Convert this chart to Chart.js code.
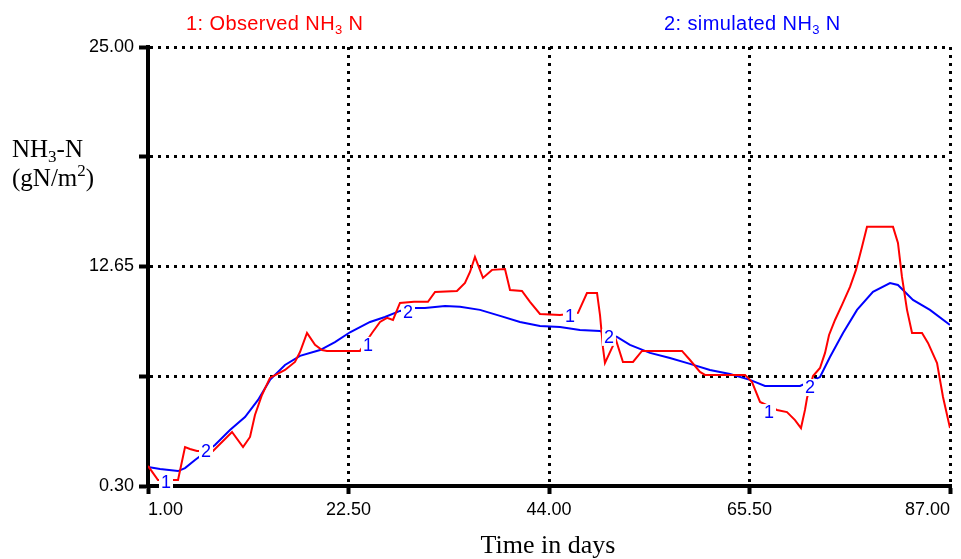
<!DOCTYPE html>
<html>
<head>
<meta charset="utf-8">
<script src="https://cdn.jsdelivr.net/npm/chart.js@4.4.1/dist/chart.umd.min.js"></script>
<style>
  html, body { margin: 0; padding: 0; background: #fff; }
  #wrap { width: 961px; height: 559px; }
</style>
</head>
<body>
<div id="wrap"><canvas id="chart" width="961" height="559"></canvas></div>
<script>
// observed NH3 N (series 1)
const obsDays = [1.0, 2.07, 3.57, 4.22, 4.97, 5.50, 6.25, 7.97, 10.01, 11.19, 11.94, 12.47, 13.22, 14.08, 15.69, 16.76, 17.30, 18.05, 18.91, 19.66,
  20.19, 23.73, 25.02, 25.88, 26.63, 27.27, 28.02, 29.52, 31.02, 31.78, 34.13, 34.99, 35.53, 36.06, 36.92, 37.89, 39.28, 39.82, 41.10, 41.96,
  43.03, 45.18, 47.11, 48.07, 49.15, 49.47, 49.79, 50.00, 50.75, 51.18, 51.93, 53.01, 53.97, 58.26, 59.12, 60.19, 60.73, 65.02, 65.77, 66.63,
  68.45, 69.52, 70.38, 71.02, 71.45, 71.67, 72.31, 73.06, 73.60, 74.03, 74.67, 75.42, 76.28, 76.92, 77.56, 78.10, 80.89, 81.42, 81.85, 82.39,
  82.93, 84.00, 84.64, 85.61, 86.25, 87.0];
const obsValues = [1.43, 0.64, 0.64, 0.64, 2.49, 2.38, 2.27, 2.27, 3.34, 2.49, 3.06, 4.30, 5.42, 6.38, 6.83, 7.28, 7.84, 8.91, 8.24, 7.95,
  7.90, 7.90, 8.91, 9.53, 9.76, 9.64, 10.60, 10.66, 10.66, 11.22, 11.27, 11.72, 12.34, 13.19, 12.01, 12.46, 12.51, 11.33, 11.27, 10.66,
  9.98, 9.92, 10.04, 11.16, 11.16, 9.92, 8.07, 7.22, 8.07, 8.52, 7.28, 7.28, 7.90, 7.90, 7.39, 6.72, 6.55, 6.55, 6.15, 5.03,
  4.58, 4.46, 4.01, 3.56, 4.58, 5.25, 6.49, 6.94, 7.79, 8.80, 9.64, 10.49, 11.50, 12.46, 13.75, 14.88, 14.88, 13.98, 12.06, 10.21,
  8.91, 8.91, 8.35, 7.22, 5.31, 3.56];

// simulated NH3 N (series 2)
const simDays = [1.0, 2.29, 4.22, 4.97, 6.04, 8.18, 9.79, 11.40, 12.80, 14.08, 15.69, 17.30, 19.45, 21.05, 22.66, 24.81, 26.41, 28.02, 29.52, 30.70,
  32.85, 34.46, 36.60, 38.75, 40.89, 43.03, 45.18, 47.32, 49.47, 51.29, 52.68, 54.83, 56.97, 59.12, 61.26, 63.41, 65.55, 67.16, 70.92, 73.06,
  74.13, 75.53, 77.03, 78.74, 80.57, 81.42, 83.03, 84.85, 87.0];
const simValues = [1.37, 1.26, 1.14, 1.31, 1.76, 2.61, 3.45, 4.18, 5.14, 6.27, 7.11, 7.62, 7.95, 8.40, 8.95, 9.53, 9.81, 10.15, 10.32, 10.32,
  10.43, 10.38, 10.21, 9.87, 9.53, 9.30, 9.25, 9.08, 9.02, 8.69, 8.24, 7.79, 7.50, 7.17, 6.83, 6.60, 6.27, 5.93, 5.93, 6.43,
  7.56, 8.91, 10.21, 11.22, 11.72, 11.61, 10.77, 10.21, 9.36];

// curve number markers
const obsMarkDays = [2.93, 24.59, 46.25, 67.59];
const obsMarkValues = [0.52, 8.24, 9.87, 4.46];
const simMarkDays = [7.22, 28.88, 50.43, 71.99];
const simMarkValues = [2.27, 10.09, 8.69, 5.87];

// axes
const xTicks = [1.0, 22.5, 44.0, 65.5, 87.0];
const yTicks = [0.30, 6.475, 12.65, 18.825, 25.00];
const yTickLabels = ['0.30', '', '12.65', '', '25.00'];

const RED = '#ff0000';
const BLUE = '#0000ff';
const SANS = '"Liberation Sans", Arial, sans-serif';
const SERIF = '"Liberation Serif", "Times New Roman", serif';

function toPoints(xs, ys) {
  return xs.map((x, i) => ({ x: x, y: ys[i] }));
}

// draws a run of text pieces, each with its own size and vertical offset
function drawRich(ctx, parts, x, y, family, color, spacing) {
  ctx.save();
  ctx.fillStyle = color;
  ctx.textAlign = 'left';
  ctx.textBaseline = 'alphabetic';
  if (spacing) ctx.letterSpacing = spacing;
  let cx = x;
  parts.forEach(p => {
    ctx.font = p.size + 'px ' + family;
    ctx.fillText(p.t, cx, y + (p.dy || 0));
    cx += ctx.measureText(p.t).width;
  });
  ctx.restore();
}

const textPlugin = {
  id: 'textPlugin',
  afterDraw(chart) {
    const ctx = chart.ctx;
    const xs = chart.scales.x, ys = chart.scales.y;

    // numbered markers sitting on the curves (white box hides the line)
    ctx.save();
    ctx.font = '18px ' + SANS;
    ctx.textAlign = 'center';
    ctx.textBaseline = 'middle';
    const marks = [];
    obsMarkDays.forEach((d, i) => marks.push({ d: d, v: obsMarkValues[i], t: '1' }));
    simMarkDays.forEach((d, i) => marks.push({ d: d, v: simMarkValues[i], t: '2' }));
    marks.forEach(m => {
      const px = xs.getPixelForValue(m.d);
      const py = ys.getPixelForValue(m.v);
      ctx.fillStyle = '#fff';
      ctx.fillRect(px - 7, py - 8, 14, 17);
      ctx.fillStyle = BLUE;
      ctx.fillText(m.t, px, py + 1);
    });
    ctx.restore();

    // legend line at the top
    drawRich(ctx, [{ t: '1: Observed NH', size: 20 }, { t: '3', size: 13, dy: 4 }, { t: ' N', size: 20 }], 186, 30, SANS, RED, '0.4px');
    drawRich(ctx, [{ t: '2: simulated NH', size: 20 }, { t: '3', size: 13, dy: 4 }, { t: ' N', size: 20 }], 664, 30, SANS, BLUE, '0.4px');

    // y axis title
    drawRich(ctx, [{ t: 'NH', size: 25 }, { t: '3', size: 17, dy: 5 }, { t: '-N', size: 25 }], 12, 157, SERIF, '#000');
    drawRich(ctx, [{ t: '(gN/m', size: 25 }, { t: '2', size: 17, dy: -10 }, { t: ')', size: 25 }], 12, 186, SERIF, '#000');

    // x axis title
    ctx.save();
    ctx.font = '26px ' + SERIF;
    ctx.fillStyle = '#000';
    ctx.textAlign = 'center';
    ctx.textBaseline = 'alphabetic';
    ctx.fillText('Time in days', 548, 553);
    ctx.restore();
  }
};

const gridOpts = {
  color: '#000',
  lineWidth: 3,
  tickColor: '#000',
  tickWidth: 4
};

new Chart(document.getElementById('chart'), {
  type: 'line',
  data: {
    datasets: [{
      label: 'Observed',
      data: toPoints(obsDays, obsValues),
      borderColor: RED,
      borderWidth: 2,
      pointRadius: 0,
      tension: 0
    }, {
      label: 'Simulated',
      data: toPoints(simDays, simValues),
      borderColor: BLUE,
      borderWidth: 2,
      pointRadius: 0,
      tension: 0
    }]
  },
  options: {
    responsive: false,
    animation: false,
    devicePixelRatio: 1,
    layout: { padding: { top: 47, right: 11, left: 0, bottom: 0 } },
    plugins: {
      legend: { display: false },
      tooltip: { enabled: false }
    },
    scales: {
      x: {
        type: 'linear',
        min: 1,
        max: 87,
        afterBuildTicks: s => { s.ticks = xTicks.map(v => ({ value: v })); },
        afterFit: s => { s.height = 73; },
        ticks: {
          callback: v => Number(v).toFixed(2),
          font: { family: SANS, size: 18 },
          color: '#000',
          align: 'inner',
          padding: 5,
          maxRotation: 0,
          autoSkip: false
        },
        grid: Object.assign({ tickLength: 8 }, gridOpts),
        border: { color: '#000', width: 4, dash: [3, 5] }
      },
      y: {
        min: 0.3,
        max: 25,
        afterBuildTicks: s => { s.ticks = yTicks.map(v => ({ value: v })); },
        afterFit: s => { s.width = 148; },
        ticks: {
          callback: (v, i) => yTickLabels[i],
          font: { family: SANS, size: 18 },
          color: '#000',
          padding: 5,
          autoSkip: false
        },
        grid: Object.assign({ tickLength: 9 }, gridOpts),
        border: { color: '#000', width: 4, dash: [3, 5] }
      }
    }
  },
  plugins: [textPlugin]
});
</script>
</body>
</html>
